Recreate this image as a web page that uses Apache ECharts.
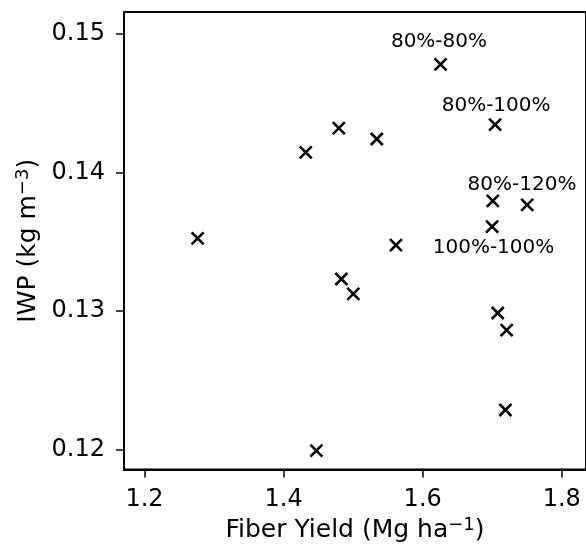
<!DOCTYPE html>
<html>
<head>
<meta charset="utf-8">
<script src="https://cdn.jsdelivr.net/npm/echarts@6/dist/echarts.min.js"></script>
<style>html,body{margin:0;padding:0;background:#fff}#c{width:586px;height:548px}</style>
</head>
<body>
<div id="c"></div>
<script>
const fiberYield = [1.2764, 1.4318, 1.4794, 1.5340, 1.6257, 1.7041, 1.7008, 1.7502, 1.6998, 1.5615, 1.4831, 1.5002, 1.7079, 1.7207, 1.7189, 1.4471];
const iwp = [0.13524, 0.14145, 0.14319, 0.14241, 0.14779, 0.14345, 0.13795, 0.13766, 0.13609, 0.13476, 0.13231, 0.13124, 0.12986, 0.12862, 0.12286, 0.11993];
const pointLabels = ['', '', '', '', '80%-80%', '80%-100%', '', '80%-120%', '100%-100%', '', '', '', '', '', '', ''];
const labelOffsets = {'80%-80%': [-1.6, -22.8], '80%-100%': [1, -19], '80%-120%': [-5.2, -20.4], '100%-100%': [1.4, 21.6]};
const xTicks = [1.2, 1.4, 1.6, 1.8];
const yTicks = [0.12, 0.13, 0.14, 0.15];

const font = 'DejaVu Sans';
const data = fiberYield.map((x, i) => {
  const item = {value: [x, iwp[i]]};
  const t = pointLabels[i];
  if (t) {
    item.label = {show: true, formatter: t, position: 'inside', offset: labelOffsets[t],
      fontFamily: font, fontSize: 20, color: '#000', align: 'center', verticalAlign: 'middle'};
  }
  return item;
});

const chart = echarts.init(document.getElementById('c'), null, {renderer: 'canvas'});
chart.setOption({
  animation: false,
  backgroundColor: '#fff',
  grid: {left: 124, top: 12, right: -4, bottom: 74, show: true, borderColor: '#000', borderWidth: 2, backgroundColor: 'transparent'},
  xAxis: {
    type: 'value', min: 1.1705, max: 1.8348,
    name: 'Fiber Yield (Mg ha{sup|\u22121})', nameLocation: 'middle', nameGap: 47,
    nameTextStyle: {fontFamily: font, fontSize: 25, color: '#000',
      rich: {sup: {fontFamily: font, fontSize: 18, color: '#000', verticalAlign: 'top', padding: [0, 0, 10, 0]}}},
    axisLine: {show: true, lineStyle: {color: '#000', width: 2}},
    axisTick: {show: true, customValues: xTicks, length: 8, lineStyle: {color: '#000', width: 1.5}},
    axisLabel: {show: true, customValues: xTicks, margin: 18, fontFamily: font, fontSize: 24, color: '#000',
      formatter: v => v.toFixed(1)},
    splitLine: {show: false}
  },
  yAxis: {
    type: 'value', min: 0.118571, max: 0.151571,
    name: 'IWP (kg m{sup|\u22123})', nameLocation: 'middle', nameGap: 78, nameRotate: 90,
    nameTextStyle: {fontFamily: font, fontSize: 25, color: '#000',
      rich: {sup: {fontFamily: font, fontSize: 18, color: '#000', verticalAlign: 'top', padding: [0, 0, 10, 0]}}},
    axisLine: {show: true, lineStyle: {color: '#000', width: 2}},
    axisTick: {show: true, customValues: yTicks, length: 8, lineStyle: {color: '#000', width: 1.5}},
    axisLabel: {show: true, customValues: yTicks, margin: 19, fontFamily: font, fontSize: 24, color: '#000',
      formatter: v => v.toFixed(2)},
    splitLine: {show: false}
  },
  series: [{
    type: 'scatter',
    symbol: 'path://M0,0L10,10M10,0L0,10',
    symbolSize: 12,
    itemStyle: {color: 'rgba(0,0,0,0)', borderColor: '#000', borderWidth: 2.6, opacity: 1},
    emphasis: {disabled: true},
    data: data
  }]
});
</script>
</body>
</html>
